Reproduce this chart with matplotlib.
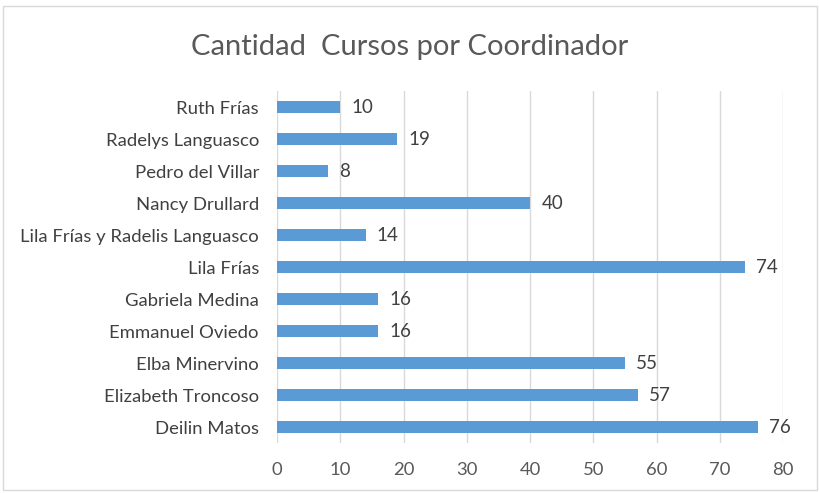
import matplotlib
matplotlib.use("Agg")
import matplotlib.pyplot as plt
from matplotlib.patches import Rectangle

coordinadores = ["Deilin Matos", "Elizabeth Troncoso", "Elba Minervino", "Emmanuel Oviedo",
                 "Gabriela Medina", "Lila Frías", "Lila Frías y Radelis Languasco",
                 "Nancy Drullard", "Pedro del Villar", "Radelys Languasco", "Ruth Frías"]
cursos = [76, 57, 55, 16, 16, 74, 14, 40, 8, 19, 10]
ticks_x = [0, 10, 20, 30, 40, 50, 60, 70, 80]

plt.rcParams['font.family'] = ['Lato', 'DejaVu Sans']
txt = '#404040'

fig = plt.figure(figsize=(8.2, 4.93), dpi=100)
fig.patches.append(Rectangle((0.004, 0.006), 0.992, 0.982, transform=fig.transFigure,
                             fill=False, edgecolor='#d9d9d9', lw=1))
ax = fig.add_axes([0.3378, 0.1014, 0.6171, 0.714])

pos = range(len(coordinadores))
ax.barh(pos, cursos, height=0.375, color='#5B9BD5', zorder=3)
for p, v in zip(pos, cursos):
    ax.text(v + 1.8, p, str(v), va='center', ha='left', fontsize=13.5, color=txt)

ax.set_xlim(0, 80)
ax.set_ylim(-0.5, 10.5)
ax.set_xticks(ticks_x)
ax.set_yticks(list(pos))
ax.set_yticklabels(coordinadores)
ax.grid(axis='x', color='#d9d9d9', lw=1, zorder=0)
for s in ax.spines.values():
    s.set_visible(False)
ax.tick_params(axis='y', length=0, pad=13, labelsize=13.3, labelcolor=txt)
ax.tick_params(axis='x', length=0, pad=14, labelsize=13.3, labelcolor='#595959')

fig.text(0.5, 0.905, "Cantidad  Cursos por Coordinador", ha='center', va='center',
         fontsize=21, color='#595959')

fig.savefig("out.png", dpi=100)
